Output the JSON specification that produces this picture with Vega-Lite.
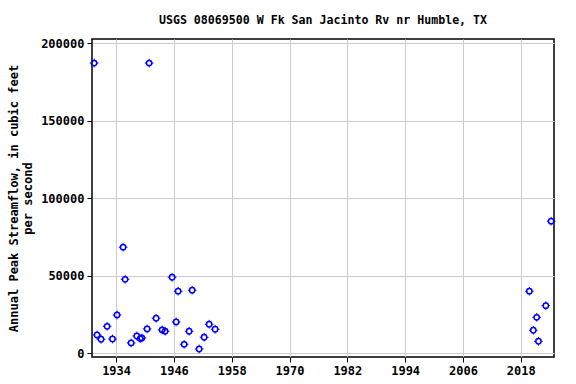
{
  "$schema": "https://vega.github.io/schema/vega-lite/v6.json",
  "width": 462,
  "height": 318,
  "autosize": {"type": "none"},
  "padding": {"left": 92, "top": 39, "right": 22, "bottom": 27},
  "background": "white",
  "title": {
    "text": "USGS 08069500 W Fk San Jacinto Rv nr Humble, TX",
    "font": "DejaVu Sans Mono",
    "fontSize": 11.6,
    "fontWeight": "bold",
    "color": "black",
    "anchor": "middle",
    "offset": 10
  },
  "config": {
    "view": {"stroke": "black", "strokeWidth": 1.5},
    "axis": {
      "labelFont": "DejaVu Sans Mono",
      "labelFontSize": 12,
      "labelFontWeight": "bold",
      "labelColor": "black",
      "titleFont": "DejaVu Sans Mono",
      "titleFontSize": 12,
      "titleFontWeight": "bold",
      "titleColor": "black",
      "gridColor": "#cccccc",
      "gridWidth": 1,
      "tickColor": "black",
      "tickSize": 5,
      "domain": false
    }
  },
  "data": {
    "values": [
      {"year": 1929.44, "peak": 187100},
      {"year": 1930.05, "peak": 11800},
      {"year": 1930.88, "peak": 9030},
      {"year": 1932.13, "peak": 17400},
      {"year": 1933.25, "peak": 9200},
      {"year": 1934.2, "peak": 24700},
      {"year": 1935.46, "peak": 68400},
      {"year": 1935.87, "peak": 47700},
      {"year": 1937.12, "peak": 6650},
      {"year": 1938.3, "peak": 11150},
      {"year": 1939.0, "peak": 9500},
      {"year": 1939.35, "peak": 9870},
      {"year": 1940.44, "peak": 15680},
      {"year": 1940.86, "peak": 187100},
      {"year": 1942.31, "peak": 22580},
      {"year": 1943.56, "peak": 15030},
      {"year": 1944.18, "peak": 14190},
      {"year": 1945.63, "peak": 49000},
      {"year": 1946.46, "peak": 20200},
      {"year": 1946.88, "peak": 40000},
      {"year": 1948.13, "peak": 5800},
      {"year": 1949.16, "peak": 14190},
      {"year": 1949.79, "peak": 40650},
      {"year": 1951.24, "peak": 2770},
      {"year": 1952.28, "peak": 10320},
      {"year": 1953.32, "peak": 18710},
      {"year": 1954.56, "peak": 15480},
      {"year": 2019.79, "peak": 40000},
      {"year": 2020.6, "peak": 14840},
      {"year": 2021.3, "peak": 23200},
      {"year": 2021.67, "peak": 7740},
      {"year": 2023.2, "peak": 30700},
      {"year": 2024.3, "peak": 85160}
    ]
  },
  "encoding": {
    "x": {
      "field": "year",
      "type": "quantitative",
      "scale": {"domain": [1929, 2024.9], "nice": false, "zero": false},
      "axis": {"values": [1934, 1946, 1958, 1970, 1982, 1994, 2006, 2018], "format": "d", "title": null, "labelPadding": 3}
    },
    "y": {
      "field": "peak",
      "type": "quantitative",
      "scale": {"domain": [-2400, 202600], "nice": false, "zero": false},
      "axis": {
        "values": [0, 50000, 100000, 150000, 200000],
        "format": "d",
        "title": ["Annual Peak Streamflow, in cubic feet", "per second"],
        "titlePadding": 6,
        "labelPadding": 3
      }
    }
  },
  "layer": [
    {
      "mark": {"type": "point", "shape": "M0,-1.45L0,-0.95M0,0.95L0,1.45M-1.45,0L-0.95,0M0.95,0L1.45,0", "size": 36, "stroke": "blue", "strokeWidth": 1, "filled": false, "opacity": 1}
    },
    {
      "mark": {"type": "point", "shape": "circle", "size": 28, "stroke": "blue", "strokeWidth": 1.5, "filled": false, "opacity": 1}
    }
  ]
}
